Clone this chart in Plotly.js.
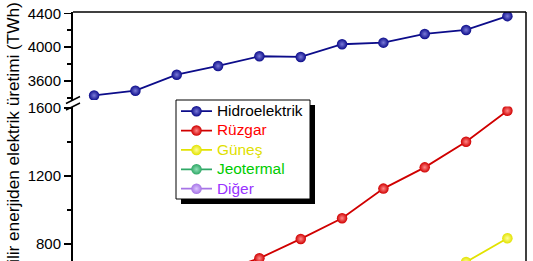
<!DOCTYPE html>
<html>
<head>
<meta charset="utf-8">
<script src="https://cdn.plot.ly/plotly-3.0.1.min.js"></script>
<style>
html,body{margin:0;padding:0;overflow:hidden;background:#fff;}
#chart{width:533px;height:440px;}
</style>
</head>
<body>
<div id="chart"></div>
<script>
// ---- data ----
const years = [2010, 2011, 2012, 2013, 2014, 2015, 2016, 2017, 2018, 2019, 2020];
const hidroelektrik = [3429, 3485, 3674, 3777, 3892, 3884, 4034, 4053, 4156, 4203, 4366];
const ruzgar = [342, 437, 524, 635, 716, 830, 952, 1126, 1251, 1402, 1584];
const gunes = [32, 64, 100, 138, 190, 256, 330, 444, 570, 694, 834];
const jeotermal = [68, 69, 70, 71, 74, 77, 80, 84, 88, 91, 94];
const diger = [380, 410, 440, 470, 500, 520, 550, 580, 600, 630, 650];
const seriesNames = ['Hidroelektrik', 'Rüzgar', 'Güneş', 'Jeotermal', 'Diğer'];
const yTitle = 'Yenilenebilir enerjiden elektrik üretimi (TWh)';

// ---- styles ----
const lineColors = ['#0c0c8a', '#d00000', '#e2e200', '#2fa866', '#a674e6'];
const centerColors = ['#7a7ad8', '#ff8888', '#ffff99', '#90e0b8', '#dcc4ff'];
const textColors = ['#000000', '#ff0000', '#e0e000', '#00cc00', '#9933ff'];
const FONT = 'Liberation Sans, Arial, sans-serif';

// pixel geometry of plot area
const L = 73, R = 526, T = 12, B = 380, H = 440, W = 533;
const pw = R - L, ph = B - T;
const px2x = p => (p - L) / pw;
const px2y = p => (B - p) / ph;

const allValues = [hidroelektrik, ruzgar, gunes, jeotermal, diger];
const traces = allValues.map((vals, i) => ({
  x: years, y: vals,
  name: '<span style="color:' + textColors[i] + ';font-size:15.4px">' + seriesNames[i] + '</span>',
  type: 'scatter', mode: 'lines+markers',
  xaxis: 'x', yaxis: i === 0 ? 'y2' : 'y',
  line: {color: lineColors[i], width: 1.8},
  marker: {size: 10.5, color: lineColors[i], gradient: {type: 'radial', color: centerColors[i]}, line: {width: 0}}
}));

const axisCommon = {
  showline: true, linecolor: '#000', linewidth: 2,
  ticks: 'outside', ticklen: 7, tickwidth: 1.5, tickcolor: '#000',
  minor: {ticks: 'outside', ticklen: 4, tickwidth: 1.5, tickcolor: '#000', dtick: 200},
  tickmode: 'linear', tick0: 0, dtick: 400,
  showgrid: false, zeroline: false,
  tickfont: {family: FONT, size: 15, color: '#000'}
};

// legend box (pixels) drawn as shapes: box + drop shadow
const box = {x0: 176, y0: 100, x1: 310, y1: 199};
const sh = 5;

const layout = {
  width: W, height: H,
  margin: {l: L, r: W - R, t: T, b: H - B},
  paper_bgcolor: '#fff', plot_bgcolor: '#fff',
  font: {family: FONT, size: 15, color: '#000'},
  showlegend: true,
  legend: {
    x: px2x(176), y: px2y(96.5), xanchor: 'left', yanchor: 'top',
    bgcolor: 'rgba(0,0,0,0)', borderwidth: 0,
    font: {family: FONT, size: 12.6, color: '#000'},
    itemwidth: 31,
    tracegroupgap: 0
  },
  xaxis: {
    anchor: 'y', range: [2009.49, 2020.45],
    showline: true, linecolor: '#000', linewidth: 2,
    ticks: 'outside', ticklen: 7, tickwidth: 1.5, tickmode: 'linear', tick0: 2010, dtick: 2,
    showticklabels: false,
    showgrid: false, zeroline: false
  },
  yaxis: Object.assign({}, axisCommon, {domain: [0, px2y(106.5)], range: [0, 1609], anchor: 'x'}),
  yaxis2: Object.assign({}, axisCommon, {domain: [px2y(100), 1], range: [3375, 4415], anchor: 'x'}),
  annotations: [{
    text: yTitle, textangle: -90, showarrow: false,
    xref: 'paper', yref: 'paper', x: px2x(13), y: px2y(169.8),
    xanchor: 'center', yanchor: 'middle',
    font: {family: FONT, size: 17.2, color: '#000'}
  }],
  shapes: [
    {type: 'line', xref: 'paper', yref: 'paper', x0: 0, x1: 1, y0: 1, y1: 1, line: {color: '#000', width: 1.5}},
    {type: 'line', xref: 'paper', yref: 'paper', x0: 1, x1: 1, y0: 0, y1: 1, line: {color: '#000', width: 1.5}},
    {type: 'line', xref: 'paper', yref: 'paper', x0: px2x(66), y0: px2y(103.5), x1: px2x(80), y1: px2y(96.5), line: {color: '#000', width: 1.5}},
    {type: 'line', xref: 'paper', yref: 'paper', x0: px2x(66), y0: px2y(110), x1: px2x(80), y1: px2y(103), line: {color: '#000', width: 1.5}},
    {type: 'rect', xref: 'paper', yref: 'paper', layer: 'above',
     x0: px2x(box.x0 + sh), x1: px2x(box.x1 + sh), y0: px2y(box.y1 + sh), y1: px2y(box.y0 + sh),
     fillcolor: '#000', line: {width: 0}},
    {type: 'rect', xref: 'paper', yref: 'paper', layer: 'above',
     x0: px2x(box.x0), x1: px2x(box.x1), y0: px2y(box.y1), y1: px2y(box.y0),
     fillcolor: '#fff', line: {color: '#000', width: 1}}
  ]
};

Plotly.newPlot('chart', traces, layout, {displayModeBar: false, staticPlot: true});
</script>
</body>
</html>
